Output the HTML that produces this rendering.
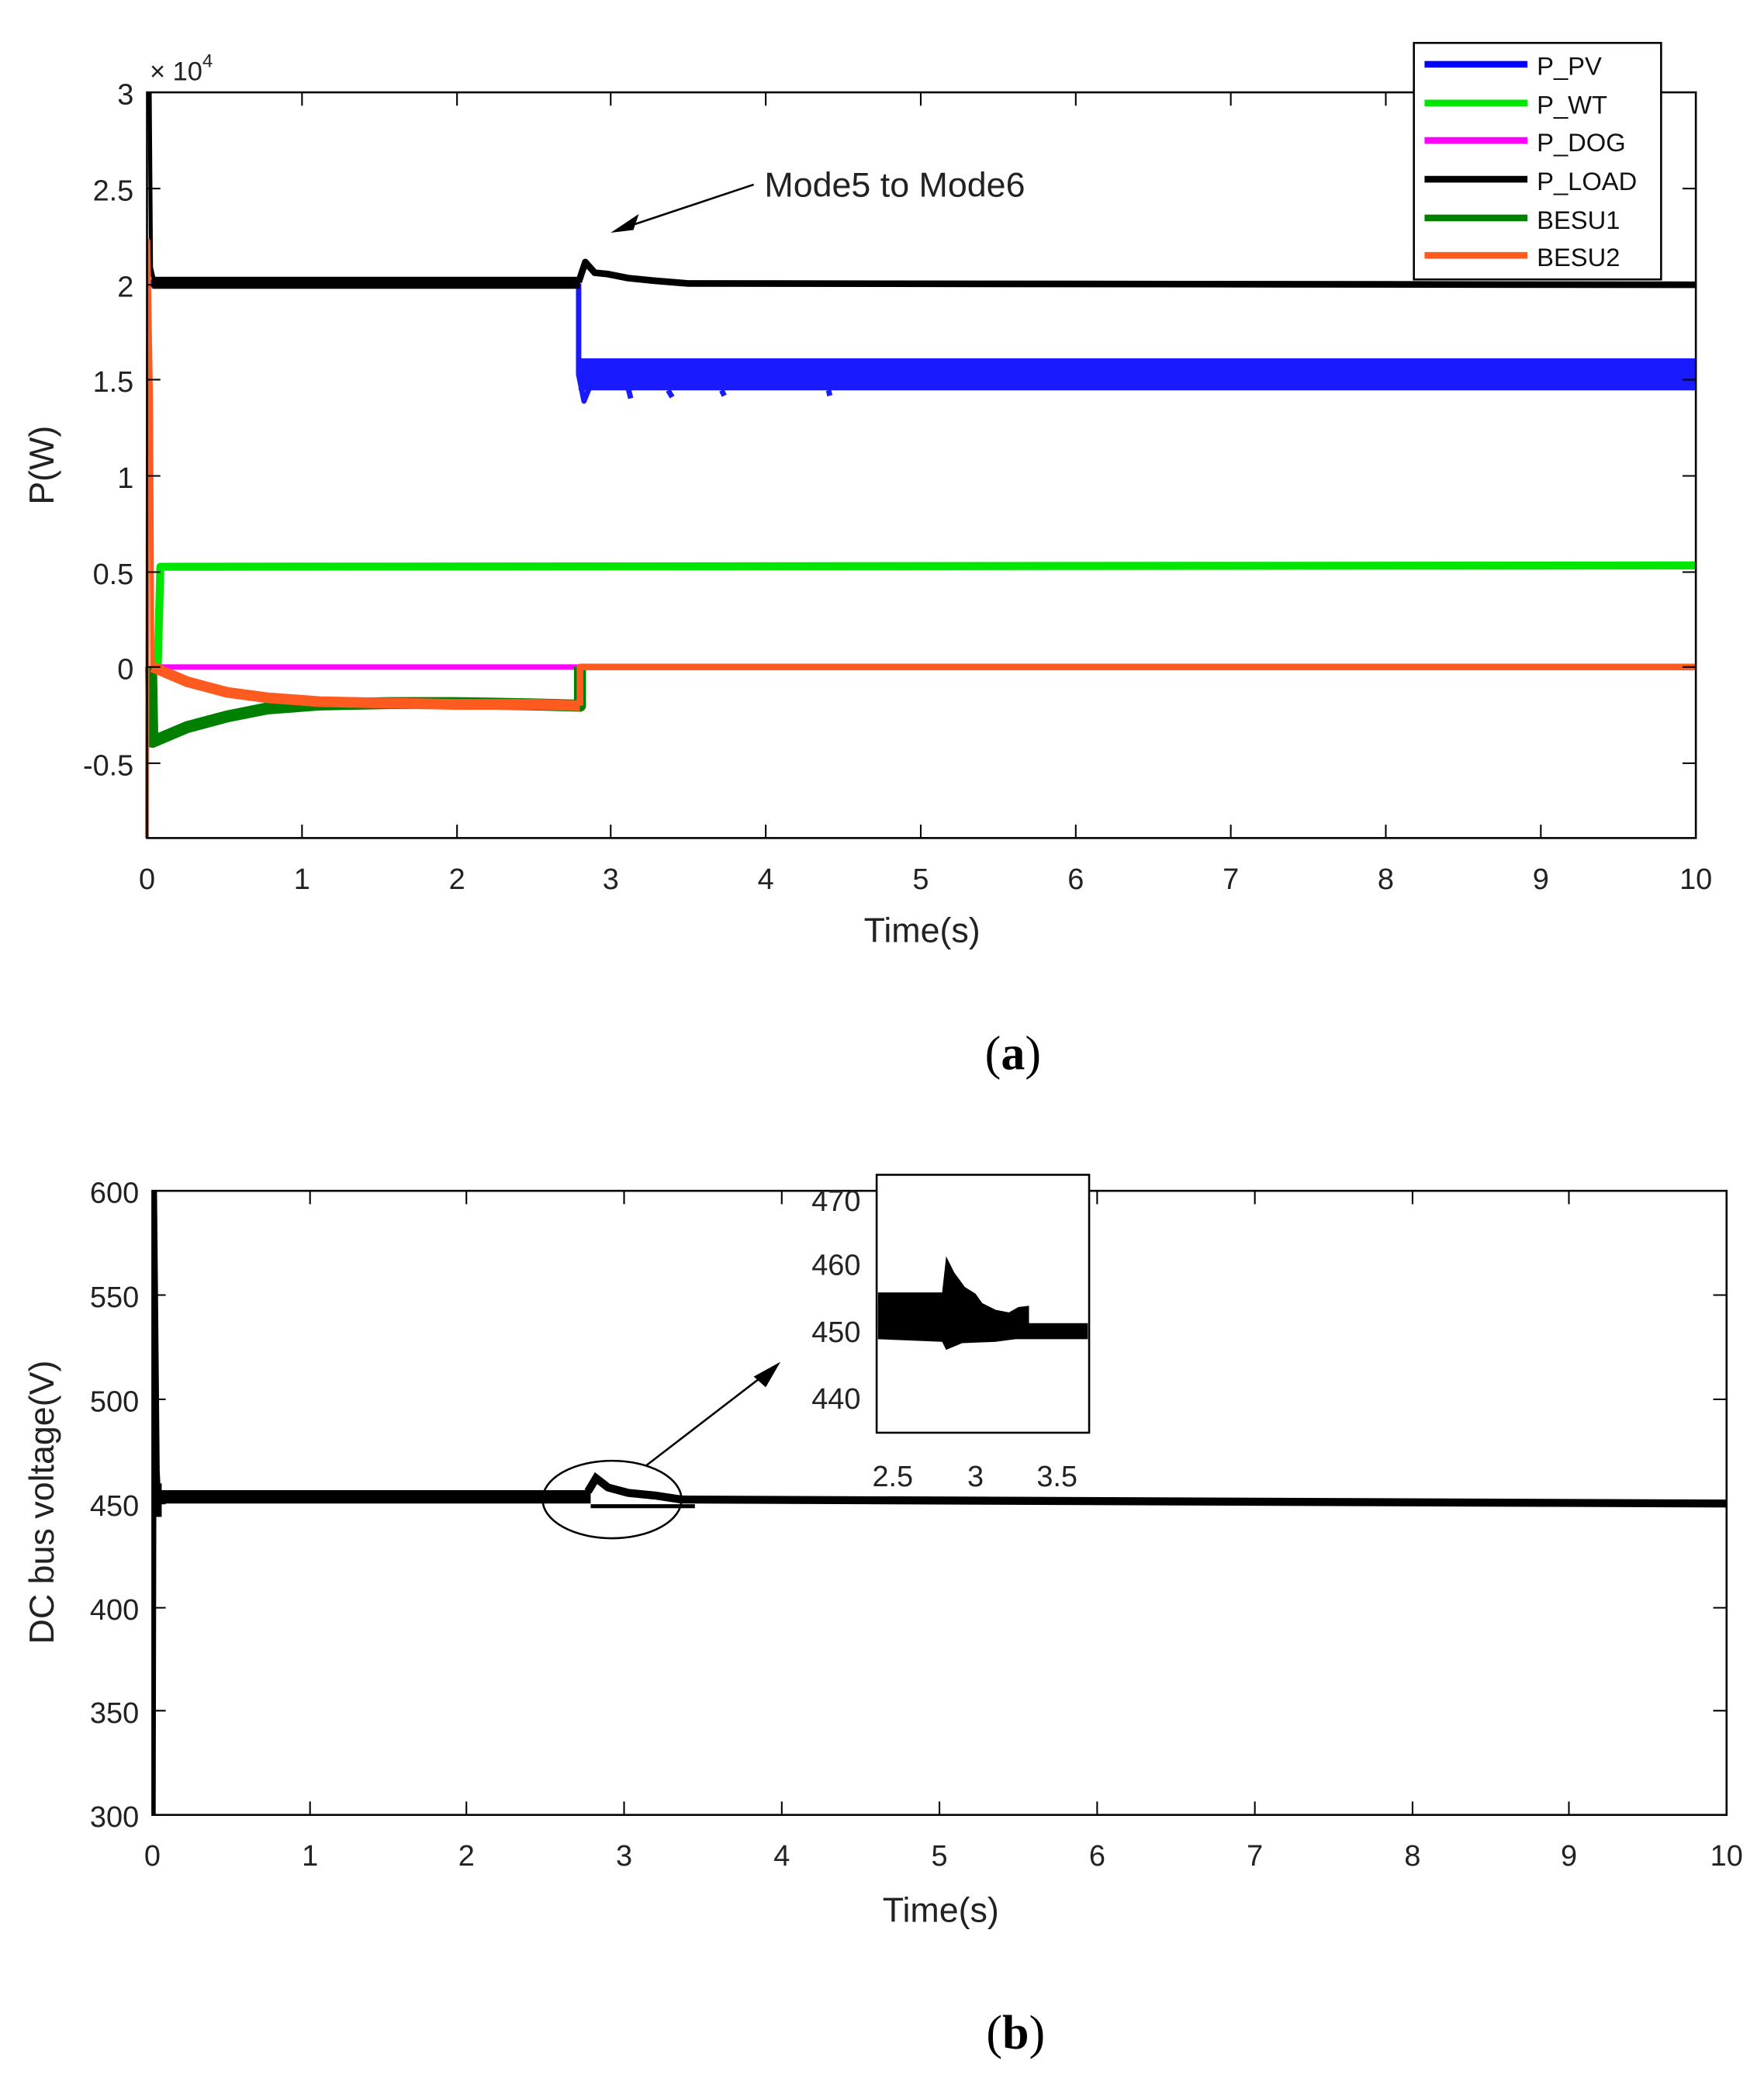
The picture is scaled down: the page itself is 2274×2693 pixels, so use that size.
<!DOCTYPE html>
<html><head><meta charset="utf-8"><style>html,body{margin:0;padding:0;background:#fff}svg{display:block}</style></head>
<body>
<svg width="2274" height="2693" viewBox="0 0 1320 1563" xmlns="http://www.w3.org/2000/svg" font-family="Liberation Sans, sans-serif">
<rect width="1320" height="1563" fill="#fff"/>
<g fill="none" stroke-linejoin="round">
<path d="M113,499 L118,499 L120,424 L1269,423" stroke="#00e600" stroke-width="6"/>
<path d="M112,212 L434,212" stroke="#0000ff" stroke-width="6"/>
<rect x="433" y="268" width="836" height="24" fill="#1a1aff" stroke="none"/>
<path d="M433,212 L433,280 L437,300 L441,290 M470,290 L472,298 M500,292 L503,297 M540,292 L542,296 M620,292 L621,296" stroke="#1a1aff" stroke-width="4"/>
<path d="M112,69 L113,200 L116,213" stroke="#000" stroke-width="3"/>
<rect x="114" y="207" width="320" height="9" fill="#000" stroke="none"/>
<path d="M433,211 L438,196 L445,204 L455,205 L470,208 L490,210 L515,212 L1269,213" stroke="#000" stroke-width="5"/>
<path d="M113,499 L434,499" stroke="#ff00ff" stroke-width="4"/>
<path d="M113,499 L114,555 L140,544 L170,536 L200,530 L240,527 L290,526 L340,526 L400,527 L434,528 L434,499" stroke="#008000" stroke-width="9"/>
<path d="M110,627 L111,180 L113,300 L114,499" stroke="#ff5a1f" stroke-width="3"/>
<path d="M114,499 L140,510 L170,518 L200,522 L240,525 L290,526 L340,527 L400,527 L434,528" stroke="#ff5a1f" stroke-width="8"/>
<path d="M434,528 L434,499 L1269,499" stroke="#ff5a1f" stroke-width="5"/>
</g>
<rect x="110" y="69" width="1159" height="558" fill="none" stroke="#000" stroke-width="1.5"/>
<g stroke="#000" stroke-width="1.2">
<path d="M226,627v-10M342,627v-10M457,627v-10M573,627v-10M689,627v-10M805,627v-10M921,627v-10M1037,627v-10M1153,627v-10"/>
<path d="M226,69v10M342,69v10M457,69v10M573,69v10M689,69v10M805,69v10M921,69v10M1037,69v10M1153,69v10"/>
<path d="M110,141h10M110,213h10M110,284h10M110,356h10M110,428h10M110,499h10M110,571h10"/>
<path d="M1269,141h-10M1269,213h-10M1269,284h-10M1269,356h-10M1269,428h-10M1269,499h-10M1269,571h-10"/>
</g>
<g font-size="22" fill="#222" text-anchor="end">
<text x="100" y="78">3</text><text x="100" y="150">2.5</text><text x="100" y="222">2</text><text x="100" y="293">1.5</text><text x="100" y="365">1</text><text x="100" y="437">0.5</text><text x="100" y="508">0</text><text x="100" y="580">-0.5</text>
</g>
<text x="112" y="60" font-size="20" fill="#222">× 10<tspan font-size="14" dy="-10">4</tspan></text>
<g font-size="22" fill="#222" text-anchor="middle">
<text x="110" y="665">0</text><text x="226" y="665">1</text><text x="342" y="665">2</text><text x="457" y="665">3</text><text x="573" y="665">4</text><text x="689" y="665">5</text><text x="805" y="665">6</text><text x="921" y="665">7</text><text x="1037" y="665">8</text><text x="1153" y="665">9</text><text x="1269" y="665">10</text>
</g>
<text x="690" y="705" font-size="26" fill="#222" text-anchor="middle">Time(s)</text>
<text transform="translate(40,348) rotate(-90)" font-size="26" fill="#222" text-anchor="middle">P(W)</text>
<text x="572" y="147" font-size="26" fill="#222">Mode5 to Mode6</text>
<path d="M564,138 L462,172" stroke="#000" stroke-width="1.5"/>
<path d="M457,174 L478,160 L474,172 Z" fill="#000"/>
<rect x="1058" y="32" width="185" height="177" fill="#fff" stroke="#000" stroke-width="1.5"/>
<g stroke-width="5">
<path d="M1066,48h77" stroke="#0000ff"/><path d="M1066,77h77" stroke="#00e600"/><path d="M1066,105h77" stroke="#ff00ff"/><path d="M1066,134h77" stroke="#000"/><path d="M1066,163h77" stroke="#008000"/><path d="M1066,191h77" stroke="#ff5a1f"/>
</g>
<g font-size="19" fill="#111">
<text x="1150" y="56">P_PV</text><text x="1150" y="85">P_WT</text><text x="1150" y="113">P_DOG</text><text x="1150" y="142">P_LOAD</text><text x="1150" y="171">BESU1</text><text x="1150" y="199">BESU2</text>
</g>
<text x="758" y="800" font-size="36" font-family="Liberation Serif, serif" text-anchor="middle"><tspan>(</tspan><tspan font-weight="bold">a</tspan><tspan>)</tspan></text>

<path d="M115,1358 L116,891 L118,1100 L119,1122" stroke="#000" stroke-width="3" fill="none"/>
<rect x="117" y="1115" width="325" height="10" fill="#000"/>
<path d="M115,1110 L121,1110 L121,1135 L115,1135Z" fill="#000"/>
<path d="M440,1116 L446,1106 L455,1113 L470,1117 L490,1119 L510,1122 L1292,1125" stroke="#000" stroke-width="6" fill="none"/>
<path d="M442,1127 L520,1127" stroke="#000" stroke-width="3"/>
<rect x="114" y="891" width="1178" height="467" fill="none" stroke="#000" stroke-width="1.5"/>
<g stroke="#000" stroke-width="1.2">
<path d="M232,1358v-10M349,1358v-10M467,1358v-10M585,1358v-10M703,1358v-10M821,1358v-10M939,1358v-10M1057,1358v-10M1174,1358v-10"/>
<path d="M232,891v10M349,891v10M467,891v10M585,891v10M821,891v10M939,891v10M1057,891v10M1174,891v10"/>
<path d="M114,969h10M114,1047h10M114,1125h10M114,1203h10M114,1280h10"/>
<path d="M1292,969h-10M1292,1047h-10M1292,1125h-10M1292,1203h-10M1292,1280h-10"/>
</g>
<g font-size="22" fill="#222" text-anchor="end">
<text x="104" y="900">600</text><text x="104" y="978">550</text><text x="104" y="1056">500</text><text x="104" y="1134">450</text><text x="104" y="1212">400</text><text x="104" y="1289">350</text><text x="104" y="1367">300</text>
</g>
<g font-size="22" fill="#222" text-anchor="middle">
<text x="114" y="1396">0</text><text x="232" y="1396">1</text><text x="349" y="1396">2</text><text x="467" y="1396">3</text><text x="585" y="1396">4</text><text x="703" y="1396">5</text><text x="821" y="1396">6</text><text x="939" y="1396">7</text><text x="1057" y="1396">8</text><text x="1174" y="1396">9</text><text x="1292" y="1396">10</text>
</g>
<text x="704" y="1438" font-size="26" fill="#222" text-anchor="middle">Time(s)</text>
<text transform="translate(40,1124) rotate(-90)" font-size="26" fill="#222" text-anchor="middle">DC bus voltage(V)</text>
<ellipse cx="458" cy="1122" rx="52" ry="29" fill="none" stroke="#000" stroke-width="1.5"/>
<path d="M483,1097 L578,1024" stroke="#000" stroke-width="1.5"/>
<path d="M584,1019 L564,1030 L573,1038 Z" fill="#000"/>
<rect x="656" y="879" width="159" height="193" fill="#fff" stroke="#000" stroke-width="1.5"/>
<path d="M657,967 L705,967 L708,940 L714,952 L722,963 L730,968 L735,975 L745,980 L755,982 L762,978 L770,977 L770,990 L814,990 L814,1002 L760,1002 L745,1004 L720,1005 L708,1010 L705,1004 L657,1002 Z" fill="#000"/>
<g font-size="22" fill="#222" text-anchor="end">
<text x="644" y="906">470</text><text x="644" y="954">460</text><text x="644" y="1004">450</text><text x="644" y="1054">440</text>
</g>
<g font-size="22" fill="#222" text-anchor="middle">
<text x="668" y="1112">2.5</text><text x="730" y="1112">3</text><text x="791" y="1112">3.5</text>
</g>
<text x="760" y="1533" font-size="36" font-family="Liberation Serif, serif" text-anchor="middle"><tspan>(</tspan><tspan font-weight="bold">b</tspan><tspan>)</tspan></text>
</svg>
</body></html>
